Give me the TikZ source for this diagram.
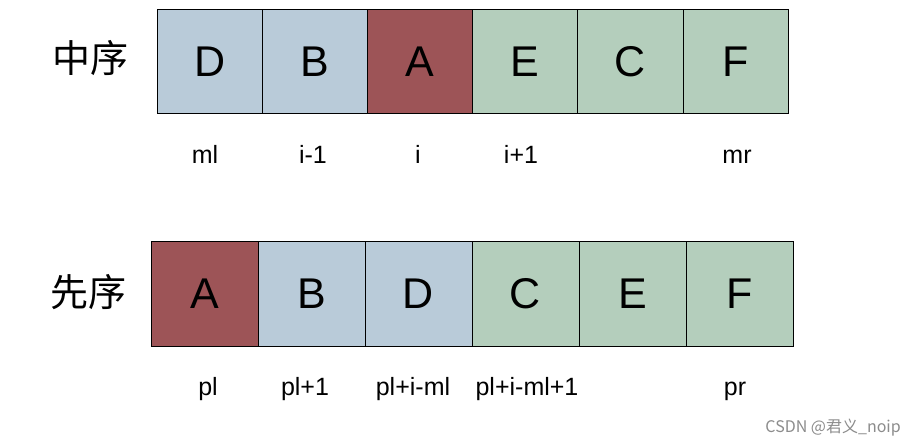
\documentclass[tikz,border=0pt]{standalone}
\usepackage{fontspec}
\setmainfont{Liberation Sans}
\newfontfamily\cjk{Noto Sans CJK SC}
\definecolor{cblue}{RGB}{185,203,217}
\definecolor{cred}{RGB}{157,84,87}
\definecolor{cgreen}{RGB}{180,206,188}
\definecolor{wm}{RGB}{140,140,140}
\begin{document}
\begin{tikzpicture}[x=1pt,y=-1pt,
  cellA/.style={draw=black,line width=0.9pt,minimum width=105.2pt,minimum height=104pt,inner sep=0pt,anchor=north west,font=\fontsize{43}{43}\selectfont},
  cellB/.style={draw=black,line width=0.9pt,minimum width=107pt,minimum height=104.7pt,inner sep=0pt,anchor=north west,font=\fontsize{43}{43}\selectfont},
  idx/.style={font=\fontsize{25}{25}\selectfont,inner sep=0pt,anchor=base},
  title/.style={font=\cjk\fontsize{38}{38}\selectfont,inner sep=0pt}]
\useasboundingbox[fill=white] (0,0) rectangle (917,446);
% inorder row
\node[title] (t1) at (90,58) {中序};
\node[cellA,fill=cblue] (m1) at (156.5,9.5) {D};
\node[cellA,fill=cblue] (m2) at (261.7,9.5) {B};
\node[cellA,fill=cred] (m3) at (366.9,9.5) {A};
\node[cellA,fill=cgreen] (m4) at (472.1,9.5) {E};
\node[cellA,fill=cgreen] (m5) at (577.3,9.5) {C};
\node[cellA,fill=cgreen] (m6) at (682.5,9.5) {F};
\node[idx] (l1) at (205,163.5) {ml};
\node[idx] (l2) at (313,163.5) {i-1};
\node[idx] (l3) at (418,163.5) {i};
\node[idx] (l4) at (521,163.5) {i+1};
\node[idx] (l5) at (737,163.5) {mr};
% preorder row
\node[title] (t2) at (88,292) {先序};
\node[cellB,fill=cred] (p1) at (150.5,241.3) {A};
\node[cellB,fill=cblue] (p2) at (257.5,241.3) {B};
\node[cellB,fill=cblue] (p3) at (364.5,241.3) {D};
\node[cellB,fill=cgreen] (p4) at (471.5,241.3) {C};
\node[cellB,fill=cgreen] (p5) at (578.5,241.3) {E};
\node[cellB,fill=cgreen] (p6) at (685.5,241.3) {F};
\node[idx] (q1) at (208,395.5) {pl};
\node[idx] (q2) at (305,395.5) {pl+1};
\node[idx] (q3) at (413,395.5) {pl+i-ml};
\node[idx] (q4) at (527,395.5) {pl+i-ml+1};
\node[idx] (q5) at (735,395.5) {pr};
% watermark
\node[font=\cjk\fontsize{16}{16}\selectfont,text=wm,inner sep=0pt,anchor=east] (w) at (901,428) {CSDN @君义\_noip};
\end{tikzpicture}
\end{document}
